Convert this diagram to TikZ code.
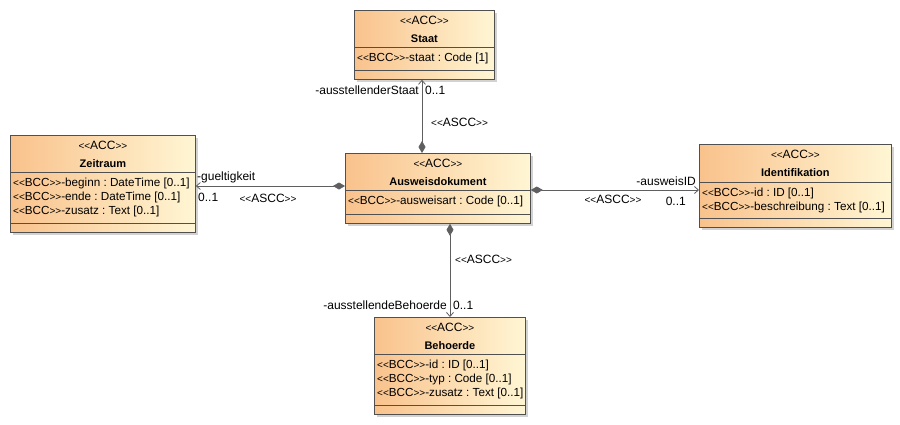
\documentclass[tikz,border=0pt]{standalone}
\usepackage{fontspec}
\newfontfamily\umlfont{Liberation Sans}
\usetikzlibrary{%
	arrows.meta,
	shadows,% wg. drop shadow
	calc,
	positioning
}
\frenchspacing
\definecolor{accorange}{RGB}{249,194,140}
\definecolor{accyellow}{RGB}{255,246,212}
\definecolor{accline}{RGB}{80,80,80}
\definecolor{asccline}{RGB}{95,95,95}
\newcommand{\ster}[1]{{\fontsize{10}{10}\selectfont<<}#1{\fontsize{10}{10}\selectfont>>}}
\tikzstyle{acc}=[draw=accline, line width=0.8pt, left color=accorange, right color=accyellow, inner sep=0pt, anchor=north west, drop shadow={shadow xshift=3pt, shadow yshift=-3pt, fill=black!35}]
\tikzstyle{compart}=[draw=accline, line width=0.8pt]
\tikzstyle{stype}=[font=\umlfont\fontsize{12}{14}\selectfont, inner sep=0pt, anchor=base]
\tikzstyle{cname}=[font=\umlfont\bfseries\fontsize{11}{14}\selectfont, inner sep=0pt, anchor=base]
\tikzstyle{attr}=[font=\umlfont\fontsize{11.7}{14}\selectfont, align=left, inner sep=0pt, anchor=north west]
\tikzstyle{role}=[font=\umlfont\fontsize{12}{14}\selectfont, inner sep=0pt]
\tikzstyle{ascc}=[draw=asccline, line width=0.8pt, {Diamond[length=12pt,width=7pt]}-{Straight Barb[length=4pt,width=7pt]}]

\begin{document}
\begin{tikzpicture}[x=1pt,y=-1pt]
	\useasboundingbox (0,0) rectangle (900,424);
	\fill[white] (0,0) rectangle (900,424);
	
	% First we draw the classes
	\foreach \n/\xa/\ya/\xb/\yb/\sa/\sb/\clsname/\attrs in {%
		staat/354/10/494/79/47/70/Staat/{\ster{BCC}-staat : Code [1]},
		zeitraum/10/135/195/232/172/223/Zeitraum/{\ster{BCC}-beginn : DateTime [0..1]\\\ster{BCC}-ende : DateTime [0..1]\\\ster{BCC}-zusatz : Text [0..1]},
		ausweis/345/153/530/223/190/214/Ausweisdokument/{\ster{BCC}-ausweisart : Code [0..1]},
		ident/699/144/891/227/182/218/Identifikation/{\ster{BCC}-id : ID [0..1]\\\ster{BCC}-beschreibung : Text [0..1]},
		behoerde/374/317/525/414/354/405/Behoerde/{\ster{BCC}-id : ID [0..1]\\\ster{BCC}-typ : Code [0..1]\\\ster{BCC}-zusatz : Text [0..1]}%
	}{
		\node[acc, minimum width={(\xb-\xa)*1pt}, minimum height={(\yb-\ya)*1pt}] (\n) at (\xa,\ya) {};
		\draw[compart] (\n.west |- 0,\sa) -- (\n.east |- 0,\sa);
		\draw[compart] (\n.west |- 0,\sb) -- (\n.east |- 0,\sb);
		\node[stype] (\n-st) at ($(\n.north)+(0,14)$) {\ster{ACC}};
		\node[cname] (\n-name) at ($(\n.north)+(0,32)$) {\clsname};
		\node[attr] (\n-attr) at (\xa+3,\sa+5.4) {\attrs};
	}
	
	% Connect the classes with the associations
	\path[ascc] (ausweis.north -| 422,0) -- (staat.south -| 422,0);
	\path[ascc] (ausweis.west |- 0,186) -- (zeitraum.east |- 0,186);
	\path[ascc] (ausweis.east |- 0,190) -- (ident.west |- 0,190);
	\path[ascc] (ausweis.south -| 450,0) -- (behoerde.north -| 450,0);
	
	% Draw role names and multiplicities
	\node[role, anchor=base east] (staat-role) at (419,94) {-ausstellenderStaat};
	\node[role, anchor=base west] (staat-mult) at (425,94) {0..1};
	\node[role, anchor=base west] (staat-ascc) at (431,126) {\ster{ASCC}};
	
	\node[role, anchor=base west] (zeitraum-role) at (197,180) {-gueltigkeit};
	\node[role, anchor=base west] (zeitraum-mult) at (198,201) {0..1};
	\node[role, anchor=base] (zeitraum-ascc) at (268,202) {\ster{ASCC}};
	
	\node[role, anchor=base east] (ident-role) at (696,185) {-ausweisID};
	\node[role, anchor=base east] (ident-mult) at (686,205) {0..1};
	\node[role, anchor=base] (ident-ascc) at (613,203) {\ster{ASCC}};
	
	\node[role, anchor=base west] (behoerde-ascc) at (455,263) {\ster{ASCC}};
	\node[role, anchor=base east] (behoerde-role) at (447,309) {-ausstellendeBehoerde};
	\node[role, anchor=base west] (behoerde-mult) at (453,309) {0..1};
	
\end{tikzpicture}
\end{document}
